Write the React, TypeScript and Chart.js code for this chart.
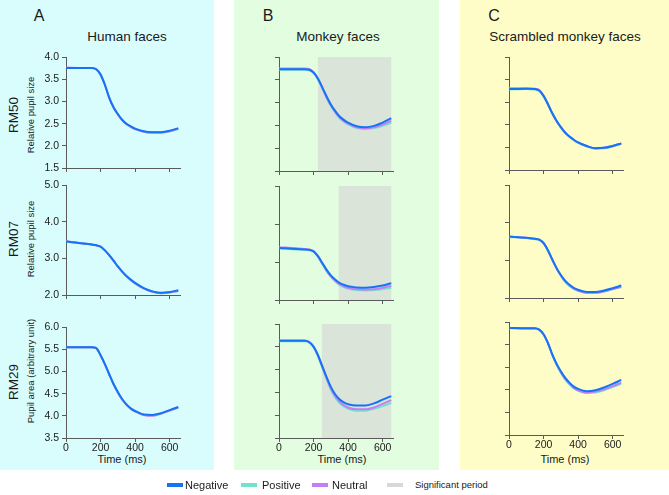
import React, { useEffect, useRef } from "react";
import { Chart, registerables } from "chart.js";
Chart.register(...registerables);

// ---------- data ----------
const timeMs = [0, 100, 150, 175, 200, 225, 250, 275, 300, 325, 350, 375, 400, 450, 500, 550, 600, 650];

const columnTitles = ["Human faces", "Monkey faces", "Scrambled monkey faces"];
const columnLetters = ["A", "B", "C"];
const rowSubjects = ["RM50", "RM07", "RM29"];
const rowYTitles = ["Relative pupil size", "Relative pupil size", "Pupil area (arbitrary unit)"];
const seriesNames = ["Negative", "Positive", "Neutral"];
const xTitle = "Time (ms)";
const shadeLabel = "Significant period";

const rowYMin = [1.5, 2.0, 3.5];
const rowYMax = [4.0, 5.0, 6.0];
const rowYStep = [0.5, 1.0, 0.5];
const xTickStep = 200;

// significant period start (ms) for monkey faces rows, ends at 650 ms
const monkeySigStart = [225, 346, 248];
const sigEnd = 650;

const humanRM50Negative = [3.76, 3.76, 3.76, 3.73, 3.61, 3.38, 3.09, 2.87, 2.72, 2.59, 2.50, 2.44, 2.39, 2.33, 2.31, 2.31, 2.34, 2.40];
const humanRM50Positive = [3.76, 3.76, 3.76, 3.73, 3.61, 3.38, 3.09, 2.87, 2.71, 2.58, 2.49, 2.43, 2.38, 2.32, 2.30, 2.30, 2.33, 2.38];
const humanRM50Neutral = [3.77, 3.76, 3.76, 3.73, 3.61, 3.38, 3.09, 2.87, 2.71, 2.58, 2.49, 2.43, 2.38, 2.32, 2.30, 2.30, 2.33, 2.39];

const humanRM07Negative = [3.46, 3.41, 3.38, 3.36, 3.32, 3.22, 3.09, 2.94, 2.78, 2.64, 2.52, 2.42, 2.33, 2.19, 2.10, 2.06, 2.08, 2.13];
const humanRM07Positive = [3.46, 3.41, 3.38, 3.36, 3.32, 3.22, 3.09, 2.94, 2.78, 2.64, 2.51, 2.41, 2.32, 2.18, 2.09, 2.05, 2.07, 2.11];
const humanRM07Neutral = [3.47, 3.41, 3.38, 3.36, 3.32, 3.22, 3.09, 2.94, 2.78, 2.64, 2.51, 2.41, 2.32, 2.18, 2.09, 2.05, 2.07, 2.11];

const humanRM29Negative = [5.55, 5.55, 5.55, 5.53, 5.37, 5.17, 4.94, 4.72, 4.54, 4.38, 4.26, 4.17, 4.11, 4.03, 4.02, 4.06, 4.13, 4.20];
const humanRM29Positive = [5.55, 5.55, 5.55, 5.53, 5.37, 5.17, 4.94, 4.72, 4.53, 4.37, 4.25, 4.16, 4.10, 4.02, 4.01, 4.05, 4.12, 4.19];
const humanRM29Neutral = [5.55, 5.55, 5.55, 5.53, 5.37, 5.17, 4.94, 4.72, 4.53, 4.37, 4.25, 4.16, 4.10, 4.02, 4.00, 4.05, 4.12, 4.19];

const monkeyRM50Negative = [3.73, 3.73, 3.73, 3.72, 3.66, 3.53, 3.34, 3.14, 2.96, 2.82, 2.70, 2.62, 2.56, 2.48, 2.46, 2.49, 2.56, 2.66];
const monkeyRM50Positive = [3.72, 3.72, 3.72, 3.71, 3.65, 3.51, 3.32, 3.11, 2.93, 2.78, 2.66, 2.58, 2.52, 2.44, 2.42, 2.44, 2.49, 2.56];
const monkeyRM50Neutral = [3.75, 3.75, 3.75, 3.74, 3.67, 3.53, 3.33, 3.12, 2.94, 2.80, 2.68, 2.60, 2.54, 2.46, 2.44, 2.46, 2.52, 2.60];

const monkeyRM07Negative = [3.37, 3.34, 3.33, 3.32, 3.28, 3.16, 2.98, 2.80, 2.65, 2.54, 2.45, 2.40, 2.36, 2.33, 2.32, 2.34, 2.38, 2.44];
const monkeyRM07Positive = [3.36, 3.33, 3.32, 3.31, 3.27, 3.14, 2.95, 2.76, 2.61, 2.49, 2.40, 2.34, 2.30, 2.26, 2.25, 2.26, 2.28, 2.32];
const monkeyRM07Neutral = [3.39, 3.36, 3.34, 3.33, 3.29, 3.15, 2.97, 2.78, 2.63, 2.51, 2.42, 2.36, 2.32, 2.28, 2.27, 2.28, 2.32, 2.37];

const monkeyRM29Negative = [5.63, 5.63, 5.63, 5.60, 5.50, 5.32, 5.08, 4.84, 4.62, 4.46, 4.35, 4.28, 4.24, 4.21, 4.21, 4.26, 4.34, 4.42];
const monkeyRM29Positive = [5.62, 5.62, 5.62, 5.59, 5.49, 5.30, 5.05, 4.80, 4.56, 4.39, 4.27, 4.19, 4.14, 4.10, 4.10, 4.14, 4.20, 4.27];
const monkeyRM29Neutral = [5.64, 5.64, 5.64, 5.61, 5.51, 5.32, 5.07, 4.82, 4.59, 4.42, 4.30, 4.22, 4.17, 4.13, 4.13, 4.17, 4.25, 4.33];

const scrambledRM50Negative = [3.29, 3.30, 3.29, 3.26, 3.14, 2.96, 2.76, 2.59, 2.45, 2.33, 2.24, 2.17, 2.11, 2.03, 1.98, 1.99, 2.03, 2.09];
const scrambledRM50Positive = [3.28, 3.29, 3.28, 3.25, 3.13, 2.95, 2.75, 2.58, 2.44, 2.32, 2.23, 2.16, 2.10, 2.02, 1.97, 1.98, 2.02, 2.08];
const scrambledRM50Neutral = [3.31, 3.31, 3.30, 3.27, 3.15, 2.96, 2.76, 2.59, 2.45, 2.33, 2.24, 2.17, 2.11, 2.03, 1.98, 1.99, 2.03, 2.09];

const scrambledRM07Negative = [3.63, 3.60, 3.57, 3.55, 3.46, 3.27, 3.03, 2.80, 2.61, 2.46, 2.35, 2.27, 2.22, 2.16, 2.16, 2.20, 2.26, 2.33];
const scrambledRM07Positive = [3.62, 3.59, 3.56, 3.54, 3.45, 3.26, 3.02, 2.78, 2.59, 2.43, 2.32, 2.24, 2.19, 2.13, 2.13, 2.17, 2.23, 2.29];
const scrambledRM07Neutral = [3.63, 3.60, 3.57, 3.55, 3.46, 3.27, 3.02, 2.79, 2.60, 2.44, 2.33, 2.25, 2.20, 2.14, 2.14, 2.18, 2.24, 2.30];

const scrambledRM29Negative = [5.87, 5.86, 5.86, 5.83, 5.73, 5.54, 5.29, 5.08, 4.91, 4.77, 4.66, 4.57, 4.52, 4.47, 4.49, 4.55, 4.63, 4.72];
const scrambledRM29Positive = [5.86, 5.85, 5.85, 5.82, 5.72, 5.53, 5.28, 5.06, 4.88, 4.73, 4.62, 4.53, 4.48, 4.43, 4.44, 4.49, 4.56, 4.63];
const scrambledRM29Neutral = [5.87, 5.86, 5.86, 5.83, 5.73, 5.54, 5.28, 5.07, 4.89, 4.74, 4.63, 4.54, 4.49, 4.44, 4.46, 4.51, 4.58, 4.66];

// [column][row] -> [negative, positive, neutral]
const panelSeries = [
  [
    [humanRM50Negative, humanRM50Positive, humanRM50Neutral],
    [humanRM07Negative, humanRM07Positive, humanRM07Neutral],
    [humanRM29Negative, humanRM29Positive, humanRM29Neutral],
  ],
  [
    [monkeyRM50Negative, monkeyRM50Positive, monkeyRM50Neutral],
    [monkeyRM07Negative, monkeyRM07Positive, monkeyRM07Neutral],
    [monkeyRM29Negative, monkeyRM29Positive, monkeyRM29Neutral],
  ],
  [
    [scrambledRM50Negative, scrambledRM50Positive, scrambledRM50Neutral],
    [scrambledRM07Negative, scrambledRM07Positive, scrambledRM07Neutral],
    [scrambledRM29Negative, scrambledRM29Positive, scrambledRM29Neutral],
  ],
];

// ---------- style / layout ----------
const FONT = "'Liberation Sans', Arial, Helvetica, sans-serif";
const seriesColors = ["#1574f5", "#72e2cb", "#c47ef4"];
const shadeColor = "#dae4d8";
const legendShadeColor = "#d8d8d8";
const axisColor = "#5a5a5a";
const textColor = "#1a1a1a";
const panelBgs = ["#d9fdfd", "#e2fde0", "#fefdc8"];
const panelRects = [
  { left: 0, width: 214 },
  { left: 234, width: 205 },
  { left: 460, width: 209 },
];
const PANEL_H = 470;

const colPlotLeft = [66, 279, 509];
const plotRows = [
  [[55, 168], [183, 295], [325, 438]],
  [[57, 171], [186, 300], [324, 438]],
  [[57, 170], [185, 298], [322, 435]],
];
const PLOT_W = 114;
const Y_W = 40;
const PAD_T = 7;
const PAD_R = 6;
const X_H = 24;
const X_MAX = 660;

const shadePlugin = {
  id: "sigShade",
  beforeDatasetsDraw(chart: any, _args: any, opts: any) {
    if (opts == null || opts.start == null) return;
    const { ctx, chartArea, scales } = chart;
    const x0 = scales.x.getPixelForValue(opts.start);
    const x1 = scales.x.getPixelForValue(opts.end);
    ctx.save();
    ctx.fillStyle = opts.color;
    ctx.fillRect(x0, chartArea.top, x1 - x0, chartArea.bottom - chartArea.top);
    ctx.restore();
  },
};

function SubPlot({ col, row }: { col: number; row: number }) {
  const ref = useRef<HTMLCanvasElement | null>(null);
  const [top, bottom] = plotRows[col][row];
  const plotH = bottom - top;
  const cw = Y_W + PLOT_W + PAD_R;
  const ch = PAD_T + plotH + X_H;
  const left = colPlotLeft[col] - Y_W;
  const ctop = top - PAD_T;

  useEffect(() => {
    const series = panelSeries[col][row];
    const order = [0, 2, 1];
    const chart = new Chart(ref.current as HTMLCanvasElement, {
      type: "line",
      data: {
        datasets: order.map((i) => ({
          label: seriesNames[i],
          data: timeMs.map((t, k) => ({ x: t, y: series[i][k] })),
          borderColor: seriesColors[i],
          backgroundColor: seriesColors[i],
          borderWidth: 2,
          pointRadius: 0,
          cubicInterpolationMode: "monotone",
          fill: false,
        })),
      },
      plugins: [shadePlugin],
      options: {
        animation: false,
        responsive: false,
        devicePixelRatio: 1,
        layout: { padding: { top: PAD_T, right: PAD_R, left: 0, bottom: 0 } },
        plugins: {
          legend: { display: false },
          tooltip: { enabled: false },
          sigShade: {
            start: col === 1 ? monkeySigStart[row] : null,
            end: sigEnd,
            color: shadeColor,
          },
        } as any,
        scales: {
          x: {
            type: "linear",
            min: 0,
            max: X_MAX,
            afterFit: (s: any) => {
              s.height = X_H;
            },
            ticks: {
              stepSize: xTickStep,
              includeBounds: false,
              display: row === 2,
              maxRotation: 0,
              padding: 0,
              color: textColor,
              font: { family: FONT, size: 10.5 },
            },
            grid: {
              drawOnChartArea: false,
              drawTicks: true,
              tickLength: 4,
              color: axisColor,
              tickColor: axisColor,
            },
            border: { display: true, color: axisColor, width: 1 },
          },
          y: {
            type: "linear",
            min: rowYMin[row],
            max: rowYMax[row],
            afterFit: (s: any) => {
              s.width = Y_W;
            },
            ticks: {
              stepSize: rowYStep[row],
              display: col === 0,
              padding: 3,
              color: textColor,
              font: { family: FONT, size: 10.5 },
              callback: (v: any) => Number(v).toFixed(1),
            },
            grid: {
              drawOnChartArea: false,
              drawTicks: true,
              tickLength: 4,
              color: axisColor,
              tickColor: axisColor,
            },
            border: { display: true, color: axisColor, width: 1 },
          },
        },
      } as any,
    });
    return () => chart.destroy();
  }, [col, row]);

  return (
    <canvas
      ref={ref}
      width={cw}
      height={ch}
      style={{ position: "absolute", left, top: ctop, width: cw, height: ch }}
    />
  );
}

function Label({
  x,
  y,
  text,
  size,
  rotate = false,
}: {
  x: number;
  y: number;
  text: string;
  size: number;
  rotate?: boolean;
}) {
  return (
    <div
      style={{
        position: "absolute",
        left: x,
        top: y,
        transform: `translate(-50%, -50%)${rotate ? " rotate(-90deg)" : ""}`,
        fontFamily: FONT,
        fontSize: size,
        lineHeight: 1,
        whiteSpace: "nowrap",
        color: textColor,
      }}
    >
      {text}
    </div>
  );
}

const letterX = [39, 268, 494];
const titleX = [127, 338, 565];
const xTitleX = [122, 342, 565];
const rmY = [115, 239, 382];
const yTitleY = [115, 239, 371];

const legendItems = [
  { swatch: 167, text: 185, label: seriesNames[0], color: seriesColors[0], size: 11 },
  { swatch: 241, text: 262, label: seriesNames[1], color: seriesColors[1], size: 11 },
  { swatch: 312, text: 332, label: seriesNames[2], color: seriesColors[2], size: 11 },
  { swatch: 387, text: 415, label: shadeLabel, color: legendShadeColor, size: 9.5 },
];

export default function App() {
  return (
    <div
      style={{
        position: "absolute",
        left: 0,
        top: 0,
        width: 669,
        height: 495,
        overflow: "hidden",
        background: "#ffffff",
      }}
    >
      {panelRects.map((r, i) => (
        <div
          key={"bg" + i}
          style={{
            position: "absolute",
            left: r.left,
            top: 0,
            width: r.width,
            height: PANEL_H,
            background: panelBgs[i],
          }}
        />
      ))}
      {columnLetters.map((l, i) => (
        <Label key={"l" + i} x={letterX[i]} y={16} text={l} size={16} />
      ))}
      {columnTitles.map((t, i) => (
        <Label key={"t" + i} x={titleX[i]} y={36.5} text={t} size={13.5} />
      ))}
      {rowSubjects.map((s, i) => (
        <Label key={"rm" + i} x={13.5} y={rmY[i]} text={s} size={13.5} rotate />
      ))}
      {rowYTitles.map((s, i) => (
        <Label key={"yt" + i} x={30.5} y={yTitleY[i]} text={s} size={9.5} rotate />
      ))}
      {xTitleX.map((x, i) => (
        <Label key={"xt" + i} x={x} y={459} text={xTitle} size={11} />
      ))}
      {[0, 1, 2].map((c) =>
        [0, 1, 2].map((r) => <SubPlot key={`p${c}${r}`} col={c} row={r} />)
      )}
      {legendItems.map((it, i) => (
        <React.Fragment key={"lg" + i}>
          <div
            style={{
              position: "absolute",
              left: it.swatch,
              top: 483,
              width: 16,
              height: 4,
              background: it.color,
            }}
          />
          <div
            style={{
              position: "absolute",
              left: it.text,
              top: 485,
              transform: "translateY(-50%)",
              fontFamily: FONT,
              fontSize: it.size,
              lineHeight: 1,
              whiteSpace: "nowrap",
              color: textColor,
            }}
          >
            {it.label}
          </div>
        </React.Fragment>
      ))}
    </div>
  );
}
